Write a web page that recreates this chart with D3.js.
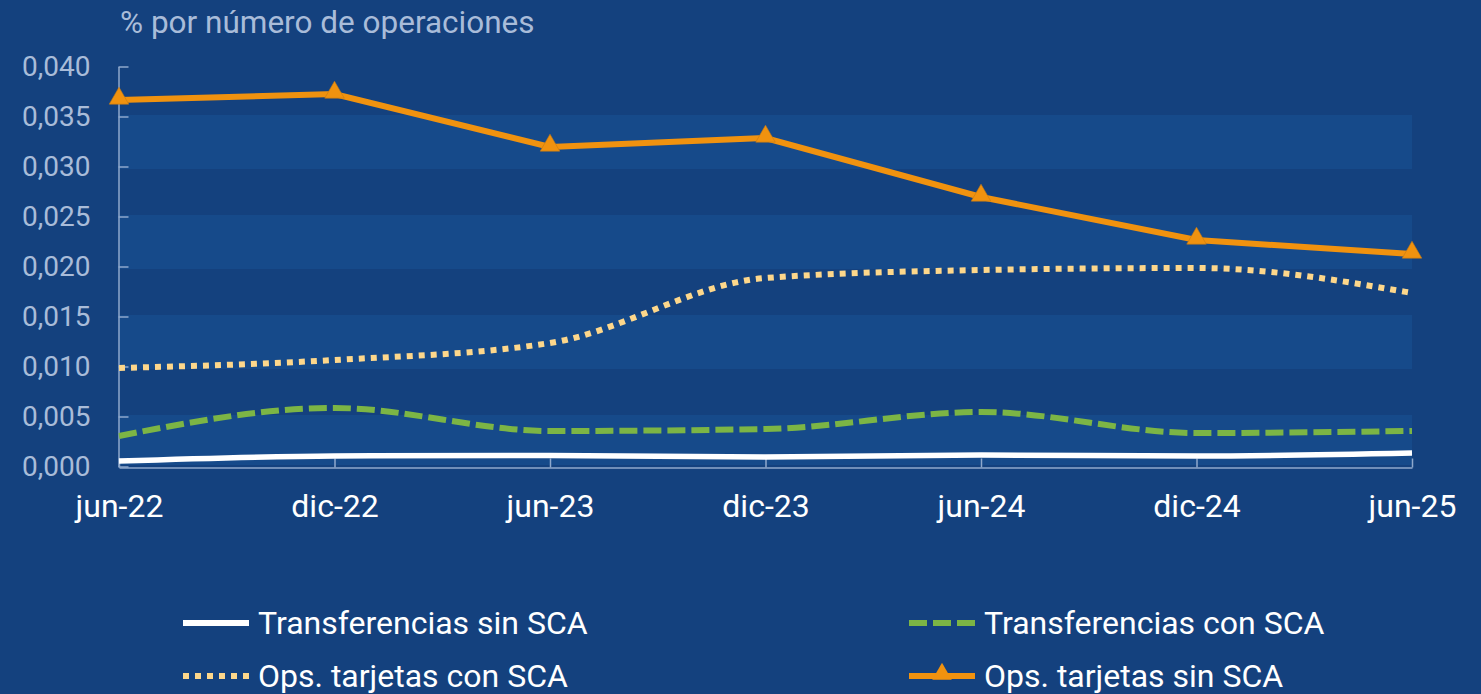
<!DOCTYPE html>
<html><head><meta charset="utf-8">
<script src="https://cdn.jsdelivr.net/npm/d3@7"></script>
<style>
html,body{margin:0;padding:0;background:#14417e;}
svg{display:block;font-family:Roboto, sans-serif;}
</style></head>
<body>
<svg id="chart" width="1481" height="694"></svg>
<script>
const categories = ["jun-22","dic-22","jun-23","dic-23","jun-24","dic-24","jun-25"];
const transfSinSCA = [0.00055,0.00105,0.0011,0.00095,0.00115,0.00105,0.00135];
const transfConSCA = [0.00305,0.00585,0.00355,0.00375,0.00545,0.00335,0.00355];
const tarjConSCA   = [0.00985,0.01065,0.01235,0.01885,0.01965,0.01985,0.01735];
const tarjSinSCA   = [0.03665,0.03725,0.03195,0.03285,0.02695,0.02265,0.02125];
const yTicks = [0,0.005,0.010,0.015,0.020,0.025,0.030,0.035,0.040];
const seriesNames = ["Transferencias sin SCA","Transferencias con SCA","Ops. tarjetas con SCA","Ops. tarjetas sin SCA"];
const title = "% por número de operaciones";

const svg = d3.select("#chart");
const BAND = "#164a8a", AXIS = "#8fa8cc", LABEL = "#a9bcd9";

const x = d3.scalePoint().domain(categories).range([119, 1412]);
const y = d3.scaleLinear().domain([0, 0.04]).range([466.5, 66.5]);

// bands
const bandPairs = [[0.035,0.030],[0.025,0.020],[0.015,0.010],[0.005,0.000]];
svg.append("g").selectAll("rect").data(bandPairs).join("rect")
  .attr("x", x(categories[0])).attr("width", x(categories[6]) - x(categories[0]))
  .attr("y", d => y(d[0]) - 1.5)
  .attr("height", d => y(d[1]) - y(d[0]) + (d[1] === 0 ? 0 : 4))
  .attr("fill", BAND);

// title
svg.append("text").attr("x", 120).attr("y", 33).attr("fill", LABEL)
  .attr("font-size", 31.5).text(title);

// y axis
const yAxis = d3.axisLeft(y).tickValues(yTicks).tickSizeInner(-10).tickSizeOuter(0).tickPadding(28)
  .tickFormat(d => d3.format(".3f")(d).replace(".", ","));
const gy = svg.append("g").attr("transform", "translate(118.5,0)").call(yAxis);
gy.select(".domain").attr("stroke", AXIS).attr("stroke-width", 1.5);
gy.selectAll(".tick line").attr("stroke", AXIS).attr("stroke-width", 1.5);
gy.selectAll(".tick text").attr("fill", LABEL).attr("font-size", 28).attr("font-family", "Roboto");

// x axis
const xAxis = d3.axisBottom(x).tickSizeInner(-9).tickSizeOuter(0).tickPadding(27);
const gx = svg.append("g").attr("transform", "translate(0,467.5)").call(xAxis);
gx.select(".domain").attr("stroke", AXIS).attr("stroke-width", 1.5);
gx.selectAll(".tick line").attr("stroke", AXIS).attr("stroke-width", 1.5);
gx.selectAll(".tick text").attr("fill", "#ffffff").attr("font-size", 32).attr("font-family", "Roboto");

const smooth = d3.line().x((d,i) => x(categories[i])).y(d => y(d)).curve(d3.curveMonotoneX);
const straight = d3.line().x((d,i) => x(categories[i])).y(d => y(d));

const styles = [
  {data: transfSinSCA, color: "#ffffff", width: 5.5, dash: null, gen: smooth},
  {data: transfConSCA, color: "#7cb545", width: 6, dash: "18,6", gen: smooth},
  {data: tarjConSCA, color: "#fdd78b", width: 6, dash: "6,6", gen: smooth},
  {data: tarjSinSCA, color: "#f0920f", width: 6, dash: null, gen: straight}
];
const lines = svg.append("g");
styles.forEach(s => {
  lines.append("path").attr("d", s.gen(s.data)).attr("fill", "none")
    .attr("stroke", s.color).attr("stroke-width", s.width)
    .attr("stroke-dasharray", s.dash);
});
const tri = d3.symbol().type(d3.symbolTriangle).size(165);
lines.selectAll("path.mk").data(tarjSinSCA).join("path").attr("class","mk")
  .attr("d", tri).attr("transform", (d,i) => `translate(${x(categories[i])},${y(d)-1.5})`)
  .attr("fill", "#f0920f").attr("stroke", "#c87a12").attr("stroke-width", 0.6);

// legend
const legendPos = [[183,623],[909,623],[183,676],[909,676]];
const lg = svg.append("g");
[0,1,2,3].forEach((si, k) => {
  const s = styles[si], [lx, ly] = legendPos[k];
  lg.append("line").attr("x1", lx).attr("x2", lx + 66).attr("y1", ly).attr("y2", ly)
    .attr("stroke", s.color).attr("stroke-width", 6).attr("stroke-dasharray", s.dash);
  if (si === 3) lg.append("path").attr("d", tri).attr("transform", `translate(${lx+33},${ly-2})`)
    .attr("fill", "#f0920f");
  lg.append("text").attr("x", lx + 75).attr("y", ly + 11).attr("fill", "#ffffff")
    .attr("font-size", 32).text(seriesNames[si]);
});
</script>
</body></html>
